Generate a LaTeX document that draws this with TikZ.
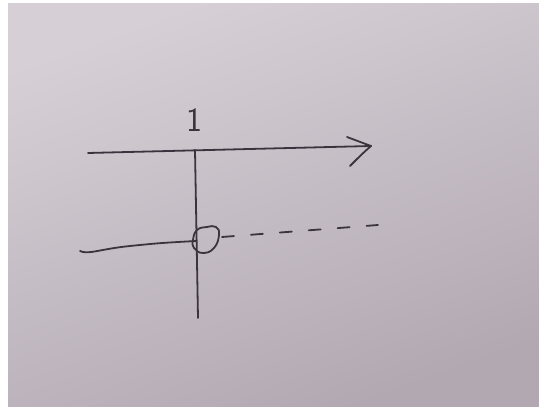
\documentclass[tikz,border=0pt]{standalone}
\usetikzlibrary{calc}
\definecolor{paperA}{RGB}{214,208,214}
\definecolor{paperB}{RGB}{178,168,178}
\definecolor{pen}{RGB}{58,52,62}
\tikzset{
  ink/.style={draw=pen, line width=1.8pt, line cap=round, line join=round},
  dashink/.style={ink, dash pattern=on 12pt off 17pt},
  digit/.style={text=pen, font=\sffamily\fontsize{34}{34}\selectfont, inner sep=0pt}
}
\begin{document}
\begin{tikzpicture}[x=1pt,y=1pt]
\useasboundingbox (0,0) rectangle (539,409);
\fill[white] (0,0) rectangle (539,409);
\shade[shading=axis, top color=paperA, bottom color=paperB, shading angle=20] (8,2) rectangle (539,405);
% coordinates
\coordinate (hL) at (88,256);
\coordinate (hR) at (371,263);
\coordinate (aU) at (347,272);
\coordinate (aD) at (350,243);
\coordinate (vT) at (195,259);
\coordinate (vB) at (198,91);
\coordinate (lL) at (80,158);
\coordinate (lR) at (196,168);
\coordinate (dS) at (222,172);
\coordinate (dE) at (378,184);
\node[digit] (one) at (194,289) {1};
% top axis with arrow
\draw[ink] (hL) -- (hR);
\draw[ink] (aU) -- (hR) .. controls (362,255) .. (aD);
% vertical axis
\draw[ink] (vT) -- (vB);
% lower left line
\draw[ink] (lL) .. controls (88,154) and (100,160) .. (130,163) .. controls (160,166) .. (lR);
% circle blob
\draw[ink] plot[smooth cycle, tension=0.8] coordinates {(193,169) (197,179) (207,182) (216,182) (219,174) (214,161) (203,156) (194,161)} node (blob) {};
% dashed continuation
\draw[dashink] (dS) -- (dE);
\end{tikzpicture}
\end{document}
